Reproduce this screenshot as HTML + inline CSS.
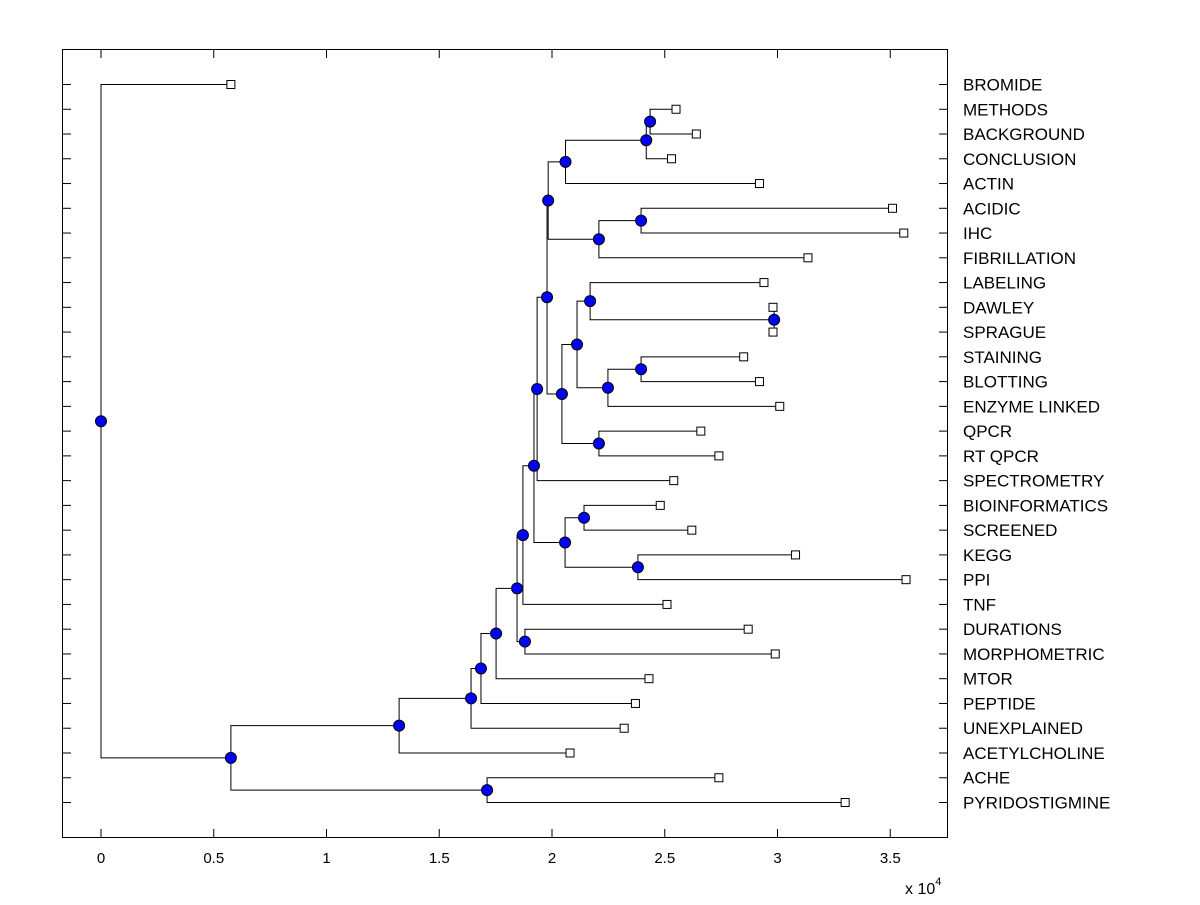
<!DOCTYPE html>
<html><head><meta charset="utf-8"><style>
body{margin:0;background:#fff;}
svg text{font-family:"Liberation Sans",Arial,sans-serif;}
</style></head><body>
<svg id="chart" width="1200" height="900" xmlns="http://www.w3.org/2000/svg">
<rect x="0" y="0" width="1200" height="900" fill="#fff"/>
<g id="tree"></g>
<g id="marks"></g>
<rect x="62.5" y="49.5" width="885" height="788" fill="none" stroke="#000" stroke-width="1"/>
<g id="axes"></g>
<text x="905" y="894" font-size="16">x 10<tspan font-size="11" dy="-9">4</tspan></text>
</svg>
<script>
// leaves (top to bottom) and their values (x 1e4)
const leafNames=["BROMIDE","METHODS","BACKGROUND","CONCLUSION","ACTIN","ACIDIC","IHC","FIBRILLATION","LABELING","DAWLEY","SPRAGUE","STAINING","BLOTTING","ENZYME LINKED","QPCR","RT QPCR","SPECTROMETRY","BIOINFORMATICS","SCREENED","KEGG","PPI","TNF","DURATIONS","MORPHOMETRIC","MTOR","PEPTIDE","UNEXPLAINED","ACETYLCHOLINE","ACHE","PYRIDOSTIGMINE"];
const leafValues=[0.576,2.55,2.64,2.53,2.92,3.51,3.56,3.135,2.94,2.98,2.98,2.85,2.92,3.01,2.66,2.74,2.54,2.48,2.62,3.08,3.57,2.51,2.87,2.99,2.43,2.37,2.32,2.08,2.74,3.30];
// internal nodes: children (leaf index as number, internal as "n"+index) and values
const nodeChildren=[
 [1,2],["n0",3],["n1",4],[5,6],["n3",7],["n2","n4"],
 [9,10],[8,"n6"],[11,12],["n8",13],["n7","n9"],[14,15],["n10","n11"],
 ["n5","n12"],["n13",16],[17,18],[19,20],["n15","n16"],["n14","n17"],
 ["n18",21],[22,23],["n19","n20"],["n21",24],["n22",25],["n23",26],
 ["n24",27],[28,29],["n25","n26"],[0,"n27"]];
const nodeValues=[2.435,2.418,2.06,2.395,2.208,1.983,2.985,2.169,2.395,2.248,2.111,2.208,2.044,1.978,1.934,2.142,2.381,2.058,1.92,1.871,1.88,1.845,1.752,1.685,1.641,1.322,1.712,0.576,0];
const xTicks=[0,0.5,1,1.5,2,2.5,3,3.5];
const xTickLabels=["0","0.5","1","1.5","2","2.5","3","3.5"];

const NS="http://www.w3.org/2000/svg";
const X=v=>101+225.5*v;
const rowY=i=>84.5+i*(802.5-84.5)/(leafNames.length-1);
function mk(tag,attrs,parent){const e=document.createElementNS(NS,tag);for(const k in attrs)e.setAttribute(k,attrs[k]);parent.appendChild(e);return e;}
const tree=document.getElementById('tree'),marks=document.getElementById('marks'),axes=document.getElementById('axes');
const nodeY=[];
function pos(c){if(typeof c==="number")return [X(leafValues[c]),rowY(c)];const i=+c.slice(1);return [X(nodeValues[i]),nodeY[i]];}
nodeChildren.forEach((ch,i)=>{nodeY[i]=(pos(ch[0])[1]+pos(ch[1])[1])/2;});
nodeChildren.forEach((ch,i)=>{
 const px=X(nodeValues[i]),py=nodeY[i];
 ch.forEach(c=>{const [cx,cy]=pos(c);
  const p=mk('polyline',{points:`${px},${py} ${px},${cy} ${cx},${cy}`,fill:'none',stroke:'#000','stroke-width':1},tree);
  
  
 });
});
leafNames.forEach((n,i)=>{
 const x=X(leafValues[i]),y=rowY(i);
 const r=mk('rect',{x:x-4,y:y-4,width:8,height:8,fill:'#fff',stroke:'#000','stroke-width':1},marks);
 
 
 const t=mk('text',{x:963,y:y+6,'font-size':17},axes);t.textContent=n;
 
 
 const l1=mk('line',{x1:62,x2:71,y1:y,y2:y,stroke:'#000'},axes);
 
 
 const l2=mk('line',{x1:939,x2:948,y1:y,y2:y,stroke:'#000'},axes);
 
 
});
nodeChildren.forEach((ch,i)=>{
 const c=mk('circle',{cx:X(nodeValues[i]),cy:nodeY[i],r:5.5,fill:'#0000ff',stroke:'#000','stroke-width':1},marks);
 
 
});
xTicks.forEach((v,i)=>{
 const x=X(v);
 const a=mk('line',{x1:x,x2:x,y1:838,y2:829,stroke:'#000'},axes);
 
 
 const b=mk('line',{x1:x,x2:x,y1:49,y2:58,stroke:'#000'},axes);
 
 
 const t=mk('text',{x:x,y:863,'font-size':15,'text-anchor':'middle'},axes);t.textContent=xTickLabels[i];
 
 
});
</script>
</body></html>
